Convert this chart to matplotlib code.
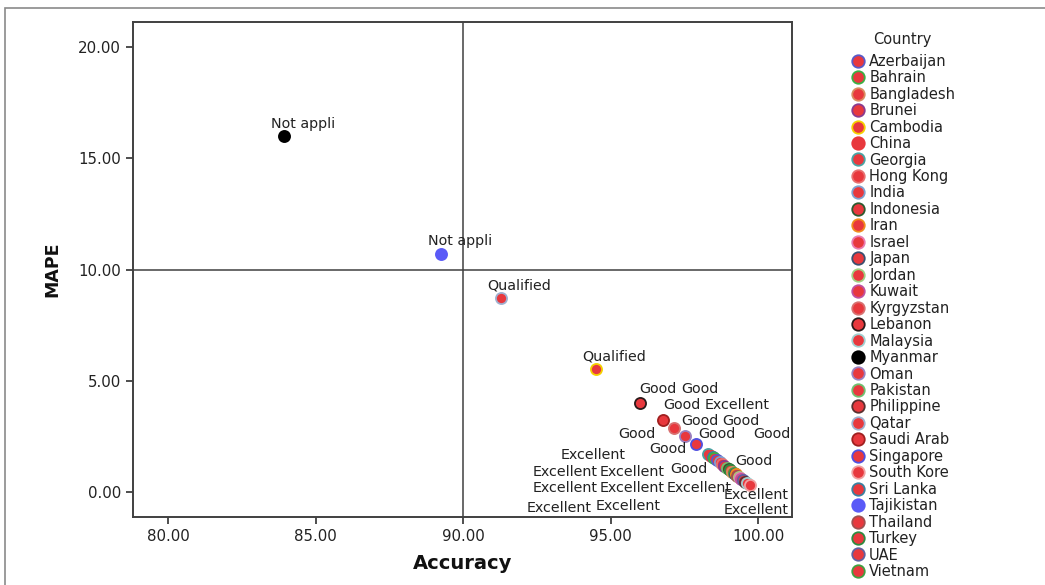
import matplotlib
matplotlib.use("Agg")
import matplotlib.pyplot as plt
from matplotlib.lines import Line2D
from matplotlib.patches import Rectangle

# ─── DATA ────────────────────────────────────────────────────────────────
countries = [
    "Myanmar", "Tajikistan", "Qatar", "Cambodia", "Lebanon", "Saudi Arab",
    "Kyrgyzstan", "Oman", "Singapore",
    "Georgia", "China", "Sri Lanka", "Bahrain", "Azerbaijan", "India",
    "Hong Kong", "Brunei", "Pakistan", "Indonesia", "Turkey", "Bangladesh",
    "Vietnam", "Japan", "Iran", "Thailand", "Jordan", "Israel", "Kuwait",
    "UAE", "Philippine", "Malaysia", "South Kore",
]
accuracy = [
    83.93, 89.25, 91.29, 94.51, 96.00, 96.78, 97.15, 97.53, 97.90,
    98.31, 98.41, 98.47, 98.51, 98.61, 98.71, 98.78, 98.85, 98.95, 99.02,
    99.05, 99.12, 99.19, 99.22, 99.25, 99.29, 99.36, 99.39, 99.42, 99.49,
    99.56, 99.63, 99.73,
]
mape = [
    16.00, 10.70, 8.72, 5.53, 4.00, 3.24, 2.88, 2.52, 2.16,
    1.71, 1.62, 1.57, 1.53, 1.44, 1.35, 1.26, 1.17, 1.08, 1.03,
    0.99, 0.90, 0.85, 0.81, 0.79, 0.72, 0.67, 0.63, 0.58, 0.54,
    0.45, 0.40, 0.31,
]
rating = [
    "Not appli", "Not appli", "Qualified", "Qualified", "Good", "Good",
    "Good", "Good", "Good",
    "Excellent", "Good", "Excellent", "Excellent", "Good", "Excellent",
    "Excellent", "Good", "Excellent", "Good", "Good", "Excellent",
    "Good", "Excellent", "Excellent", "Excellent", "Excellent", "Excellent",
    "Excellent", "Excellent", "Excellent", "Excellent", "Excellent",
]

# where each point label sits (None = label suppressed, overlapping)
label_x = [
    84.58, 89.90, 91.90, 95.12, 96.61, 98.03, 97.42, 95.90, 100.47,
    94.41, 96.95, 93.46, 95.73, 97.66, 93.46, 95.73, 98.61, 98.00, 98.03,
    99.42, 93.25, 99.86, 95.59, 99.29, None, 99.93, None, 99.93, None,
    None, None, None,
]
label_y = [
    16.54, 11.28, 9.30, 6.11, 4.63, 4.63, 3.91, 2.61, 2.61,
    1.66, 1.93, 0.90, 0.90, 1.03, 0.18, 0.18, 2.61, 0.18, 3.19,
    3.19, -0.72, 1.39, -0.63, 3.91, None, -0.13, None, -0.81, None,
    None, None, None,
]

legend_order = sorted(countries)

FILL_RED = "#e8383d"
FILL = {c: FILL_RED for c in countries}
FILL["Myanmar"] = "#000000"
FILL["Tajikistan"] = "#5a5af7"

EDGE = {
    "Azerbaijan": "#5a5ac8", "Bahrain": "#3cb043", "Bangladesh": "#d98c5f",
    "Brunei": "#8a3b8f", "Cambodia": "#f5d000", "China": "#e8383d",
    "Georgia": "#4aa3a3", "Hong Kong": "#e87070", "India": "#7fa0d0",
    "Indonesia": "#2e5a2e", "Iran": "#f08c1e", "Israel": "#e87ab0",
    "Japan": "#3b5070", "Jordan": "#a0d080", "Kuwait": "#c050a0",
    "Kyrgyzstan": "#d87070", "Lebanon": "#2a1a1a", "Malaysia": "#a0d0d0",
    "Myanmar": "#000000", "Oman": "#9a80c0", "Pakistan": "#70c070",
    "Philippine": "#5a3030", "Qatar": "#a0b0d0", "Saudi Arab": "#a02020",
    "Singapore": "#5050e0", "South Kore": "#f0a0a0", "Sri Lanka": "#3a80a0",
    "Tajikistan": "#5a5af7", "Thailand": "#a05050", "Turkey": "#2e8b40",
    "UAE": "#6060a0", "Vietnam": "#40a040",
}

TEXT = "#222222"
AXIS = "#404040"

fig = plt.figure(figsize=(10.45, 5.85), dpi=100)

# outer chart frame (top and left edges visible)
fig.patches.append(Rectangle((5 / 1045, -0.1), 1.2, 1.1 - 8 / 585,
                             transform=fig.transFigure, fill=False,
                             edgecolor="#8a8a8a", linewidth=1.2))

ax = fig.add_axes([133 / 1045, 1 - 517 / 585, 659 / 1045, 495 / 585])
ax.set_xlim(78.81, 101.15)
ax.set_ylim(-1.12, 21.12)

# quadrant reference lines
ax.axvline(90, color=AXIS, linewidth=1.1, zorder=1)
ax.axhline(10, color=AXIS, linewidth=1.1, zorder=1)

for i, c in enumerate(countries):
    ax.scatter(accuracy[i], mape[i], s=64, color=FILL[c],
               edgecolors=EDGE[c], linewidths=1.3, zorder=3)
    if label_x[i] is not None:
        ax.text(label_x[i], label_y[i], rating[i], ha="center", va="center",
                fontsize=10.3, color=TEXT, zorder=4)

ax.set_xticks([80, 85, 90, 95, 100])
ax.set_yticks([0, 5, 10, 15, 20])
ax.set_xticklabels([f"{v:.2f}" for v in ax.get_xticks()])
ax.set_yticklabels([f"{v:.2f}" for v in ax.get_yticks()])
ax.tick_params(direction="out", length=5, width=1.3, colors=AXIS,
               labelcolor=TEXT, labelsize=10.8)
for s in ax.spines.values():
    s.set_color(AXIS)
    s.set_linewidth(1.4)

ax.set_xlabel("Accuracy", fontsize=14, fontweight="bold", color="#111111",
              labelpad=7)
ax.set_ylabel("MAPE", fontsize=12.5, fontweight="bold", color="#111111",
              labelpad=12)

handles = [Line2D([], [], linestyle="none", marker="o", markersize=9,
                  markerfacecolor=FILL[c], markeredgecolor=EDGE[c],
                  markeredgewidth=1.3, label=c) for c in legend_order]
leg = fig.legend(handles=handles, title="Country", loc="upper left",
                 bbox_to_anchor=(0.806, 0.958), frameon=False, fontsize=10.5,
                 title_fontsize=10.5, labelspacing=0.1, handletextpad=0.15,
                 handlelength=1.2, borderpad=0)
leg._legend_box.sep = 5
for t in leg.get_texts():
    t.set_color(TEXT)
leg.get_title().set_color(TEXT)

fig.savefig("out.png", dpi=100)
